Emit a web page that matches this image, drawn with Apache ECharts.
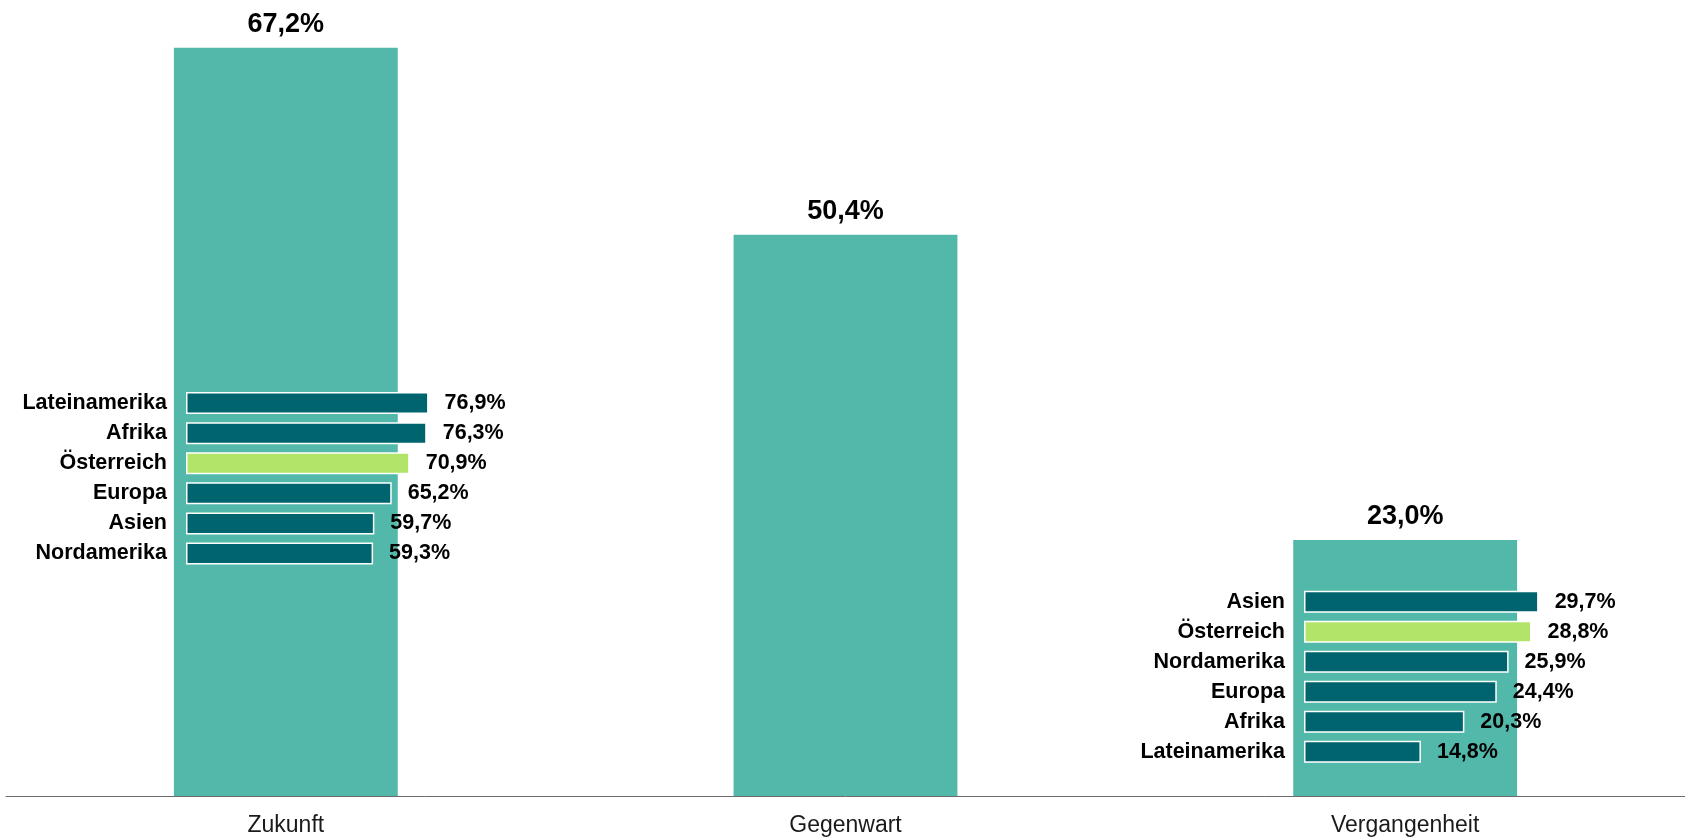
<!DOCTYPE html>
<html>
<head>
<meta charset="utf-8">
<script src="https://cdn.jsdelivr.net/npm/echarts@6/dist/echarts.min.js"></script>
<style>
html,body{margin:0;padding:0;background:#fff;}
#c{width:1685px;height:837px;}
</style>
</head>
<body>
<div id="c"></div>
<script>
const categories = ['Zukunft', 'Gegenwart', 'Vergangenheit'];
const totals = [67.2, 50.4, 23.0];
const zukunftRegions = ['Lateinamerika', 'Afrika', 'Österreich', 'Europa', 'Asien', 'Nordamerika'];
const zukunftValues = [76.9, 76.3, 70.9, 65.2, 59.7, 59.3];
const vergRegions = ['Asien', 'Österreich', 'Nordamerika', 'Europa', 'Afrika', 'Lateinamerika'];
const vergValues = [29.7, 28.8, 25.9, 24.4, 20.3, 14.8];
const highlight = 'Österreich';

const FONT = '"Liberation Sans", Arial, Helvetica, sans-serif';
const fmt = v => v.toFixed(1).replace('.', ',') + '%';

const chart = echarts.init(document.getElementById('c'), null, {renderer: 'canvas'});

function innerY(gridIndex, data) {
  return {
    type: 'category', gridIndex: gridIndex, data: data, inverse: true,
    axisLine: {show: true, lineStyle: {color: '#cfece5', width: 1}},
    axisTick: {show: true, inside: false, length: 6, lineStyle: {color: '#cfece5', width: 1}},
    axisLabel: {margin: 19, fontFamily: FONT, fontSize: 21.5, fontWeight: 'bold', color: '#000',
      padding: [6, 0, 0, 0]}
  };
}
function innerX(gridIndex, max) {
  return {type: 'value', gridIndex: gridIndex, min: 0, max: max, show: false};
}
function innerSeries(axisIndex, regions, values) {
  return {
    type: 'bar', xAxisIndex: axisIndex, yAxisIndex: axisIndex, z: 5,
    barWidth: 22,
    data: values.map((v, i) => ({
      value: v,
      itemStyle: {color: regions[i] === highlight ? '#b2e46a' : '#00646e'}
    })),
    itemStyle: {borderColor: '#ffffff', borderWidth: 1.5},
    label: {show: true, position: 'right', distance: 16, formatter: p => fmt(p.value),
      fontFamily: FONT, fontSize: 21.5, fontWeight: 'bold', color: '#000',
      padding: [6, 0, 0, 0]},
    emphasis: {disabled: true}
  };
}

chart.setOption({
  animation: false,
  backgroundColor: '#ffffff',
  grid: [
    {left: 6, top: 16.6, width: 1680, height: 780.4},
    {left: 186, top: 388, width: 315.5, height: 180.5},
    {left: 1304, top: 586.7, width: 316, height: 180}
  ],
  xAxis: [
    {type: 'category', gridIndex: 0, data: categories,
      axisLine: {show: true, lineStyle: {color: '#6b6b6b', width: 1}},
      axisTick: {show: false},
      axisLabel: {margin: 18, fontFamily: FONT, fontSize: 23, color: '#1a1a1a'}},
    innerX(1, 100),
    innerX(2, 40)
  ],
  yAxis: [
    {type: 'value', gridIndex: 0, min: 0, max: 70, show: false},
    innerY(1, zukunftRegions),
    innerY(2, vergRegions)
  ],
  series: [
    {type: 'bar', xAxisIndex: 0, yAxisIndex: 0, z: 1, barWidth: '40%',
      data: totals,
      itemStyle: {color: '#52b9aa'},
      label: {show: true, position: 'top', distance: 10, formatter: p => fmt(p.value),
        fontFamily: FONT, fontSize: 27, fontWeight: 'bold', color: '#000'},
      emphasis: {disabled: true}},
    innerSeries(1, zukunftRegions, zukunftValues),
    innerSeries(2, vergRegions, vergValues)
  ]
});
</script>
</body>
</html>
